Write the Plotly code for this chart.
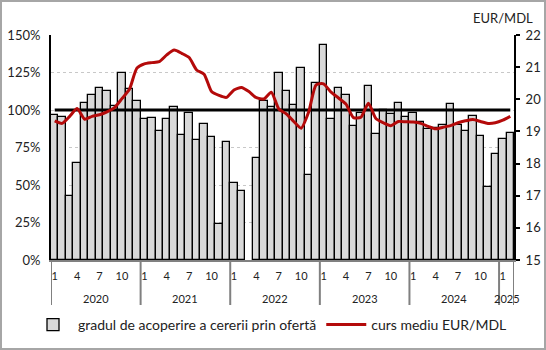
import plotly.graph_objects as go

# ---------------- data ----------------
years = [2020] * 12 + [2021] * 12 + [2022] * 12 + [2023] * 12 + [2024] * 12 + [2025] * 2
months = list(range(1, 13)) * 5 + [1, 2]

# coverage of demand by supply, %
coverage = [
    97.0, 95.6, 43.0, 64.4, 104.4, 109.8, 115.0, 113.0, 102.5, 125.0, 113.8, 105.8,
    93.8, 95.0, 85.8, 94.3, 101.8, 83.1, 98.2, 79.8, 90.4, 81.8, 23.7, 78.4,
    51.1, 45.7, None, 67.8, 106.3, 101.8, 124.5, 113.0, 103.6, 128.3, 56.4, 117.7,
    143.1, 94.3, 115.0, 110.2, 89.1, 98.0, 115.7, 83.8, 100.0, 97.1, 105.0, 95.1,
    97.8, 92.2, 87.1, 87.8, 90.3, 104.3, 89.7, 85.8, 96.3, 82.4, 48.4, 70.4,
    81.0, 85.0,
]

# average EUR/MDL rate
eur_mdl = [
    19.33, 19.25, 19.47, 19.71, 19.38, 19.47, 19.52, 19.61, 19.74, 20.02, 20.31, 20.97,
    21.10, 21.14, 21.17, 21.38, 21.53, 21.43, 21.30, 20.91, 20.78, 20.24, 20.12, 20.06,
    20.29, 20.37, 20.24, 20.05, 20.01, 20.22, 19.70, 19.55, 19.31, 19.10, 19.60, 20.45,
    20.48, 20.22, 20.04, 19.85, 19.43, 19.44, 19.88, 19.40, 19.27, 19.18, 19.31, 19.30,
    19.29, 19.25, 19.16, 19.08, 19.13, 19.18, 19.27, 19.33, 19.37, 19.31, 19.25, 19.27,
    19.35, 19.47,
]

reference_level = [100] * len(coverage)   # 100% coverage line
shown_months = [1, 4, 7, 10]

bar_name = "gradul de acoperire a cererii prin ofertă"
line_name = "curs mediu EUR/MDL"

# ---------------- figure ----------------
FONT = "Lato"
TXT = "#222222"
GRAY = "#808080"

idx = list(range(len(coverage)))

fig = go.Figure()
fig.add_bar(
    x=idx, y=coverage, name=bar_name,
    marker=dict(color="#d9d9d9", line=dict(color="black", width=1.3)),
)
fig.add_scatter(
    x=idx, y=reference_level, mode="lines", showlegend=False, hoverinfo="skip",
    line=dict(color="black", width=3),
)
fig.add_scatter(
    x=idx, y=eur_mdl, yaxis="y2", mode="lines", name=line_name,
    line=dict(color="#b40a0a", width=3, shape="spline", smoothing=0.6),
)

tickvals = [i for i in idx if months[i] in shown_months]
ticktext = [str(months[i]) for i in tickvals]

# year groups
uniq_years = []
for y in years:
    if y not in uniq_years:
        uniq_years.append(y)

shapes = []
annotations = []
for yr in uniq_years:
    members = [i for i in idx if years[i] == yr]
    annotations.append(dict(
        x=sum(members) / len(members), xref="x", y=-0.17, yref="paper",
        text=str(yr), showarrow=False, yanchor="middle",
        font=dict(family=FONT, size=11, color=TXT),
    ))
    shapes.append(dict(type="line", xref="x", yref="paper",
                       x0=members[0] - 0.5, x1=members[0] - 0.5, y0=0, y1=-0.2,
                       line=dict(color=GRAY, width=2)))
shapes.append(dict(type="line", xref="x", yref="paper",
                   x0=idx[-1] + 0.5, x1=idx[-1] + 0.5, y0=0, y1=-0.2,
                   line=dict(color=GRAY, width=2)))

W, H = 546, 350
ML, MR, MT, MB = 51, 32, 35, 90
PW, PH = W - ML - MR, H - MT - MB
# outer frame
shapes.append(dict(type="rect", xref="paper", yref="paper",
                   x0=(1 - ML) / PW, x1=(W - 1 - ML) / PW,
                   y0=(PH - (H - 1 - MT)) / PH, y1=(PH - (1 - MT)) / PH,
                   line=dict(color="#a6a6a6", width=2), fillcolor="rgba(0,0,0,0)"))

annotations.append(dict(
    x=(535 - ML) / PW, xref="paper", y=(PH - (18 - MT)) / PH, yref="paper",
    text="EUR/MDL", showarrow=False, xanchor="right", yanchor="middle",
    font=dict(family=FONT, size=13, color=TXT),
))

fig.update_layout(
    width=W, height=H,
    margin=dict(l=ML, r=MR, t=MT, b=MB, autoexpand=False),
    paper_bgcolor="white", plot_bgcolor="white",
    font=dict(family=FONT, size=13, color=TXT),
    bargap=0,
    showlegend=True,
    legend=dict(orientation="h", xref="paper", yref="paper",
                x=(28 - ML) / PW, xanchor="left", y=(PH - (325 - MT)) / PH, yanchor="middle",
                font=dict(family=FONT, size=14, color=TXT), bgcolor="rgba(0,0,0,0)",
                itemwidth=40, tracegroupgap=0),
    xaxis=dict(
        range=[-0.5, len(idx) - 0.5], tickmode="array", tickvals=tickvals, ticktext=ticktext,
        showgrid=False, zeroline=False, showline=True, linecolor=GRAY, linewidth=2,
        ticks="outside", ticklen=5, tickcolor="rgba(0,0,0,0)", automargin=False,
        tickfont=dict(family=FONT, size=11, color=TXT),
    ),
    yaxis=dict(
        range=[0, 150], dtick=25, ticksuffix="%", showline=True, linecolor="black", linewidth=2,
        showgrid=True, gridcolor="#c8c8c8", griddash="dot", gridwidth=1, zeroline=False,
        ticks="", ticklabelstandoff=6, automargin=False,
        tickfont=dict(family=FONT, size=13, color=TXT),
    ),
    yaxis2=dict(
        range=[15, 22], dtick=1, overlaying="y", side="right", showgrid=False, zeroline=False,
        showline=True, linecolor="black", linewidth=2, automargin=False,
        ticks="outside", ticklen=4, tickwidth=2, tickcolor="black", ticklabelstandoff=3,
        tickfont=dict(family=FONT, size=13, color=TXT),
    ),
    shapes=shapes,
    annotations=annotations,
)

fig.write_html("out.html")
